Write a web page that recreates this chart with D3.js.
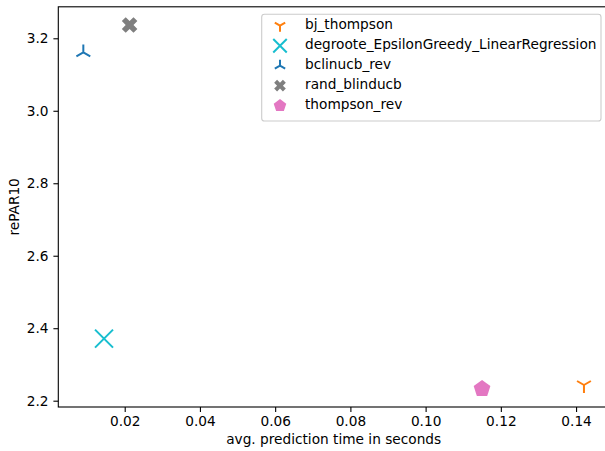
<!DOCTYPE html>
<meta charset="utf-8">
<style>
    body { margin: 0; background: #fff; }
    text { font-family: "DejaVu Sans", sans-serif; font-size: 13.7px; fill: #000; }
</style>
<body>
<script src="https://d3js.org/d3.v7.min.js"></script>
<script>
    // data
    const names = ["bj_thompson", "degroote_EpsilonGreedy_LinearRegression", "bclinucb_rev", "rand_blinducb", "thompson_rev"];
    const predTime = [0.1421, 0.0145, 0.0090, 0.0213, 0.1150];
    const rePAR10 = [2.2433, 2.3713, 3.1610, 3.2367, 2.2328];
    const colors = ["#ff7f0e", "#17becf", "#1f77b4", "#7f7f7f", "#e377c2"];
    const markers = ["tri_down", "x", "tri_up", "X", "pentagon"];
    const xTicks = [0.02, 0.04, 0.06, 0.08, 0.10, 0.12, 0.14];
    const yTicks = [2.2, 2.4, 2.6, 2.8, 3.0, 3.2];

    let width = 605, height = 451;
    let plotLeft = 58.3, plotRight = 609, plotTop = 6.8, plotBottom = 407;

    let svg = d3.select("body").append("svg")
        .attr("width", width)
        .attr("height", height);

    // matplotlib-style 5% margins
    function padded(vals) {
        let e = d3.extent(vals), p = (e[1] - e[0]) * 0.05;
        return [e[0] - p, e[1] + p];
    }
    let x = d3.scaleLinear().domain(padded(predTime)).range([plotLeft, plotRight]);
    let y = d3.scaleLinear().domain(padded(rePAR10)).range([plotBottom, plotTop]);

    // marker paths, centred on 0,0; s = scale
    function markerPath(kind, s) {
        let p = d3.path();
        if (kind == "tri_down" || kind == "tri_up") {
            let r = 8 * s, sg = kind == "tri_up" ? -1 : 1;
            p.moveTo(0, 0); p.lineTo(0, sg * r);
            p.moveTo(0, 0); p.lineTo(-r * 0.866, -sg * r * 0.5);
            p.moveTo(0, 0); p.lineTo(r * 0.866, -sg * r * 0.5);
        } else if (kind == "x") {
            let h = 9 * s;
            p.moveTo(-h, -h); p.lineTo(h, h);
            p.moveTo(-h, h); p.lineTo(h, -h);
        } else if (kind == "X") {
            // filled plus rotated 45 deg
            let u = 2.75 * s;
            let pts = [[-1,-3],[1,-3],[1,-1],[3,-1],[3,1],[1,1],[1,3],[-1,3],[-1,1],[-3,1],[-3,-1],[-1,-1]];
            let c = Math.SQRT1_2;
            pts.forEach(function(d, i) {
                let px = (d[0] - d[1]) * c * u, py = (d[0] + d[1]) * c * u;
                if (i == 0) p.moveTo(px, py); else p.lineTo(px, py);
            });
            p.closePath();
        } else if (kind == "pentagon") {
            let r = 8.8 * s;
            for (let i = 0; i < 5; i++) {
                let a = -Math.PI / 2 + i * 2 * Math.PI / 5;
                if (i == 0) p.moveTo(r * Math.cos(a), r * Math.sin(a));
                else p.lineTo(r * Math.cos(a), r * Math.sin(a));
            }
            p.closePath();
        }
        return p.toString();
    }

    function drawMarker(g, kind, color, s) {
        let filled = kind == "X" || kind == "pentagon";
        g.append("path")
            .attr("d", markerPath(kind, s))
            .attr("fill", filled ? color : "none")
            .attr("stroke", filled ? "none" : color)
            .attr("stroke-width", 2);
    }

    // axes
    svg.append("g")
        .attr("transform", "translate(0," + plotBottom + ")")
        .call(d3.axisBottom(x).tickValues(xTicks).tickFormat(d3.format(".2f")).tickSize(4.9).tickPadding(4.4));
    svg.append("g")
        .attr("transform", "translate(" + plotLeft + ",0)")
        .call(d3.axisLeft(y).tickValues(yTicks).tickFormat(d3.format(".1f")).tickSize(4.9).tickPadding(4.9));
    svg.selectAll(".domain").remove();
    svg.selectAll(".tick line").attr("stroke", "#000").attr("stroke-width", 1.1);
    svg.selectAll(".tick text")
        .style("font-size", "13.7px")
        .style("font-family", "'DejaVu Sans', sans-serif")
        .attr("fill", "#000");

    // spines
    svg.append("rect")
        .attr("x", plotLeft).attr("y", plotTop)
        .attr("width", plotRight - plotLeft).attr("height", plotBottom - plotTop)
        .attr("fill", "none").attr("stroke", "#000").attr("stroke-width", 1.1);

    // axis labels
    svg.append("text")
        .attr("x", (plotLeft + plotRight) / 2).attr("y", 444.3)
        .attr("text-anchor", "middle")
        .text("avg. prediction time in seconds");
    svg.append("text")
        .attr("transform", "translate(18.5," + (plotTop + plotBottom) / 2 + ") rotate(-90)")
        .attr("text-anchor", "middle")
        .text("rePAR10");

    // points
    names.forEach(function(n, i) {
        let g = svg.append("g")
            .attr("transform", "translate(" + x(predTime[i]) + "," + y(rePAR10[i]) + ")");
        drawMarker(g, markers[i], colors[i], 1);
    });

    // legend
    let legend = svg.append("g");
    legend.append("rect")
        .attr("x", 261.7).attr("y", 14.3)
        .attr("width", 339.3).attr("height", 106.7)
        .attr("rx", 2.8)
        .attr("fill", "#fff").attr("fill-opacity", 0.8)
        .attr("stroke", "#cccccc").attr("stroke-width", 1.1);
    names.forEach(function(n, i) {
        let base = 29.3 + i * 20;
        let g = legend.append("g").attr("transform", "translate(280," + (base - 3.6) + ")");
        drawMarker(g, markers[i], colors[i], 0.75);
        legend.append("text")
            .attr("x", 305).attr("y", base)
            .text(n);
    });
</script>
</body>
